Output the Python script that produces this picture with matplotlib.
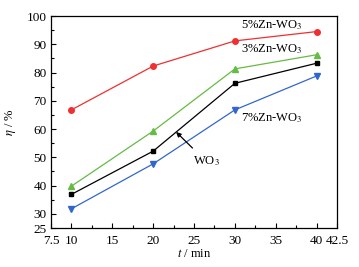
import matplotlib
matplotlib.use("Agg")
import matplotlib.pyplot as plt
from matplotlib.ticker import MultipleLocator

plt.rcParams['font.family'] = ['Liberation Serif', 'DejaVu Serif']
plt.rcParams['mathtext.fontset'] = 'stix'

# data
t = [10, 20, 30, 40]
eta_5zn = [66.8, 82.3, 91.2, 94.5]
eta_3zn = [39.8, 59.3, 81.3, 86.3]
eta_wo3 = [36.9, 52.2, 76.2, 83.3]
eta_7zn = [31.8, 47.7, 66.8, 78.8]

fig = plt.figure(figsize=(3.59, 2.67), dpi=100)
ax = fig.add_axes([0.142, 0.146, 0.797, 0.794])

ax.plot(t, eta_5zn, color='#f03030', marker='o', ms=4, lw=0.9)
ax.plot(t, eta_3zn, color='#66bb44', marker='^', ms=4.5, lw=0.9)
ax.plot(t, eta_wo3, color='black', marker='s', ms=3.5, lw=0.9)
ax.plot(t, eta_7zn, color='#3366cc', marker='v', ms=4.5, lw=0.9)

ax.set_xlim(7.5, 42.5)
ax.set_ylim(25, 100)
ax.set_xticks([7.5, 10, 15, 20, 25, 30, 35, 40, 42.5])
ax.set_xticklabels(['7.5', '10', '15', '20', '25', '30', '35', '40', '42.5'])
ax.set_yticks([25, 30, 40, 50, 60, 70, 80, 90, 100])
ax.xaxis.set_minor_locator(MultipleLocator(2.5))
ax.yaxis.set_minor_locator(MultipleLocator(5))
ax.tick_params(which='both', direction='in', top=False, right=False, labelsize=9.5)
ax.tick_params(which='major', length=3.5, width=0.8, pad=3)
ax.tick_params(axis='x', which='major', pad=5)
ax.tick_params(which='minor', length=2, width=0.8)
for s in ax.spines.values():
    s.set_linewidth(0.9)

ax.set_xlabel('$t$ / min', fontsize=9, labelpad=1)
ax.set_ylabel(r'$\eta$ / %', fontsize=9, labelpad=6)

ax.text(30.8, 96.8, '5%Zn-WO$_3$', fontsize=9, va='center')
ax.text(30.8, 88.3, '3%Zn-WO$_3$', fontsize=9, va='center')
ax.text(30.8, 64.0, '7%Zn-WO$_3$', fontsize=9, va='center')
ax.annotate('WO$_3$', xy=(22.8, 59.0), xytext=(26.5, 48.5), fontsize=9,
            ha='center', va='center',
            arrowprops=dict(arrowstyle='-|>', color='black', lw=0.9,
                            mutation_scale=7, shrinkA=4, shrinkB=0))

fig.savefig('out.png', dpi=100)
